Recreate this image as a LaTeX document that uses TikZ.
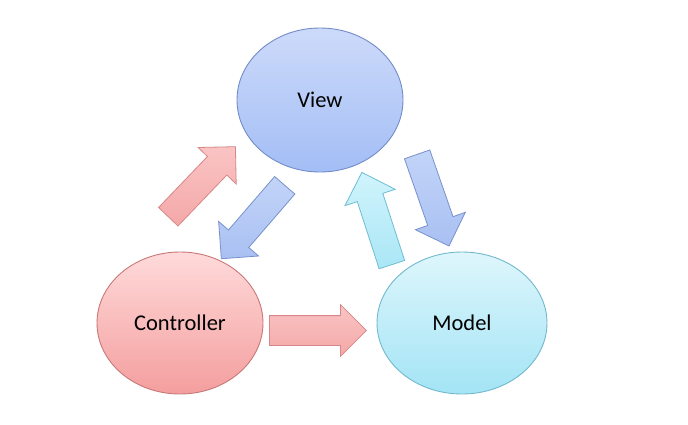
\documentclass[tikz,border=0pt]{standalone}
\usepackage{fontspec}
\setmainfont{Carlito}
\usetikzlibrary{shapes.geometric,shapes.arrows}
\definecolor{vtop}{RGB}{205,218,250}
\definecolor{vbot}{RGB}{163,190,245}
\definecolor{vline}{RGB}{115,140,200}
\definecolor{ctop}{RGB}{255,218,218}
\definecolor{cbot}{RGB}{244,158,158}
\definecolor{cline}{RGB}{200,120,120}
\definecolor{mtop}{RGB}{222,246,252}
\definecolor{mbot}{RGB}{163,228,245}
\definecolor{mline}{RGB}{115,185,205}
\definecolor{rtop}{RGB}{250,196,196}
\definecolor{rbot}{RGB}{244,168,168}
\definecolor{rline}{RGB}{215,135,135}
\definecolor{btop}{RGB}{195,212,248}
\definecolor{bbot}{RGB}{168,192,242}
\definecolor{bline}{RGB}{120,145,205}
\definecolor{ytop}{RGB}{208,244,252}
\definecolor{ybot}{RGB}{170,230,246}
\definecolor{yline}{RGB}{110,190,210}
\begin{document}
\begin{tikzpicture}[x=1pt,y=-1pt,
  blob/.style={ellipse,draw,line width=0.9pt,inner sep=0pt,font=\fontsize{22.5}{26}\selectfont},
  blockarrow/.style={single arrow,draw,line width=0.8pt,inner xsep=0pt,inner ysep=13pt,
     minimum height=97pt,single arrow head extend=13pt,
     single arrow tip angle=90,anchor=tail},
  redarrow/.style={blockarrow,draw=rline,top color=rtop,bottom color=rbot},
  bluearrow/.style={blockarrow,draw=bline,top color=btop,bottom color=bbot},
  cyanarrow/.style={blockarrow,draw=yline,top color=ytop,bottom color=ybot}]
\useasboundingbox (0,0) rectangle (688,424);
\fill[white] (0,0) rectangle (688,424);
\node[blob,draw=vline,top color=vtop,bottom color=vbot,minimum width=166pt,minimum height=144pt] (view) at (320,100) {View};
\node[blob,draw=cline,top color=ctop,bottom color=cbot,minimum width=166pt,minimum height=142pt] (ctrl) at (180,323) {Controller};
\node[blob,draw=mline,top color=mtop,bottom color=mbot,minimum width=170pt,minimum height=142pt] (model) at (462,323) {Model};
\node[redarrow,rotate=46.2] (c2v) at (168,217) {};
\node[bluearrow,rotate=229.2] (v2c) at (285,185) {};
\node[cyanarrow,rotate=108] (m2v) at (392,265) {};
\node[bluearrow,rotate=-70.8] (v2m) at (417,154) {};
\node[redarrow,inner ysep=14.5pt,single arrow head extend=11pt] (c2m) at (269,330.5) {};
\end{tikzpicture}
\end{document}
